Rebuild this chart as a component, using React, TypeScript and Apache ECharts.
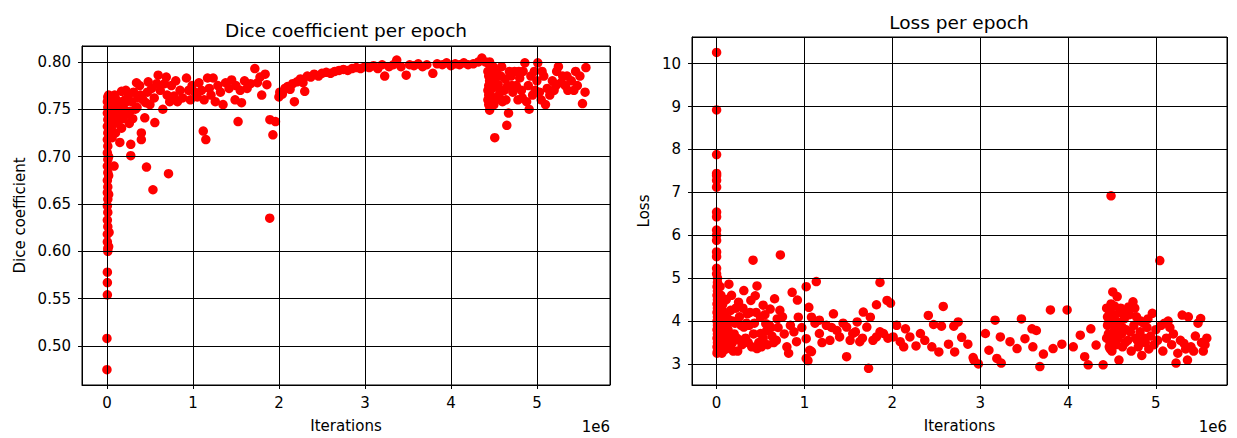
import React, { useEffect, useRef } from "react";
import * as echarts from "echarts";

// Iterations in units of 1e6, Dice coefficient
const dicePoints: [number, number][] = [
  [0, 0.475], [0, 0.508], [0.005, 0.554], [0.005, 0.567], [0.005, 0.578], [0.01, 0.6], [0.01, 0.603],
  [0.005, 0.61], [0.005, 0.618], [0.01, 0.626], [0.005, 0.633], [0.01, 0.641], [0.005, 0.648],
  [0.01, 0.655], [0.005, 0.662], [0.01, 0.668], [0.005, 0.675], [0.01, 0.683], [0.005, 0.69],
  [0.01, 0.697], [0.005, 0.704], [0.01, 0.711], [0.005, 0.718], [0.01, 0.725], [0.005, 0.732],
  [0.01, 0.739], [0.005, 0.746], [0.01, 0.752], [0.005, 0.758], [0.01, 0.763], [0.02, 0.765],
  [0.02, 0.7], [0.02, 0.68], [0.02, 0.66], [0.025, 0.62], [0.02, 0.605],
  [0.02, 0.74], [0.03, 0.72], [0.04, 0.76], [0.05, 0.745], [0.07, 0.755], [0.08, 0.735], [0.09, 0.748],
  [0.11, 0.76], [0.11, 0.738], [0.13, 0.752], [0.16, 0.745], [0.17, 0.73], [0.2, 0.75], [0.23, 0.758],
  [0.27, 0.748], [0.3, 0.74], [0.35, 0.752], [0.39, 0.765], [0.45, 0.757],
  [0.03, 0.764], [0.04, 0.745], [0.05, 0.755], [0.05, 0.73], [0.06, 0.76], [0.06, 0.72], [0.07, 0.74],
  [0.08, 0.75], [0.083, 0.69], [0.09, 0.765], [0.1, 0.745], [0.1, 0.725], [0.12, 0.755], [0.13, 0.735],
  [0.14, 0.75], [0.15, 0.715], [0.17, 0.769], [0.18, 0.758], [0.19, 0.74], [0.21, 0.76], [0.22, 0.77],
  [0.23, 0.745], [0.25, 0.765], [0.26, 0.735], [0.277, 0.713], [0.277, 0.701], [0.29, 0.758],
  [0.31, 0.768], [0.33, 0.75], [0.344, 0.778], [0.36, 0.762], [0.38, 0.775], [0.4, 0.725], [0.4, 0.718],
  [0.42, 0.76], [0.44, 0.741], [0.46, 0.689], [0.47, 0.768], [0.48, 0.779], [0.5, 0.755], [0.52, 0.772],
  [0.535, 0.665], [0.55, 0.762], [0.557, 0.736], [0.58, 0.777], [0.596, 0.786], [0.62, 0.77],
  [0.65, 0.75], [0.67, 0.777], [0.69, 0.784], [0.7, 0.765], [0.716, 0.682], [0.73, 0.758],
  [0.75, 0.775], [0.78, 0.764], [0.8, 0.78], [0.82, 0.758], [0.85, 0.77], [0.88, 0.762], [0.925, 0.783],
  [0.95, 0.77], [0.97, 0.76], [0.99, 0.775], [1.02, 0.768], [1.05, 0.763], [1.07, 0.778], [1.1, 0.77],
  [1.12, 0.727], [1.15, 0.718], [1.13, 0.76], [1.17, 0.783], [1.19, 0.772], [1.21, 0.765],
  [1.235, 0.783], [1.26, 0.758], [1.29, 0.775], [1.32, 0.768], [1.35, 0.755], [1.38, 0.778],
  [1.42, 0.772], [1.45, 0.781], [1.49, 0.76], [1.5, 0.775], [1.525, 0.737], [1.55, 0.77],
  [1.565, 0.757], [1.6, 0.78], [1.63, 0.772], [1.67, 0.777], [1.72, 0.793], [1.75, 0.778],
  [1.78, 0.784], [1.8, 0.765], [1.84, 0.787], [1.86, 0.776], [1.893, 0.635], [1.895, 0.739],
  [1.93, 0.723], [1.96, 0.737],
  [2.0, 0.763], [2.01, 0.768], [2.04, 0.766], [2.07, 0.772], [2.1, 0.774], [2.13, 0.771], [2.16, 0.777],
  [2.18, 0.758], [2.21, 0.779], [2.25, 0.782], [2.28, 0.778], [2.3, 0.769], [2.33, 0.785], [2.37, 0.784],
  [2.41, 0.787], [2.46, 0.785], [2.5, 0.788], [2.55, 0.789], [2.6, 0.788], [2.65, 0.79], [2.7, 0.791],
  [2.75, 0.792], [2.8, 0.791], [2.85, 0.793], [2.9, 0.794], [2.95, 0.793], [3.0, 0.795], [3.05, 0.794],
  [3.1, 0.796], [3.15, 0.793], [3.2, 0.797], [3.23, 0.785], [3.28, 0.795], [3.33, 0.797], [3.37, 0.802],
  [3.42, 0.795], [3.48, 0.786], [3.52, 0.797], [3.57, 0.796], [3.62, 0.798], [3.67, 0.795],
  [3.72, 0.797], [3.79, 0.788], [3.84, 0.798], [3.9, 0.797], [3.95, 0.799], [4.0, 0.796], [4.05, 0.798],
  [4.1, 0.797], [4.15, 0.799], [4.2, 0.797], [4.26, 0.798], [4.32, 0.8], [4.36, 0.804], [4.4, 0.8],
  [4.43, 0.799],
  [4.45, 0.8], [4.44, 0.79], [4.44, 0.785], [4.45, 0.78], [4.44, 0.775], [4.45, 0.77], [4.44, 0.765],
  [4.45, 0.76], [4.44, 0.755], [4.45, 0.749], [4.47, 0.795], [4.48, 0.788], [4.48, 0.772], [4.49, 0.762],
  [4.43, 0.79], [4.43, 0.77], [4.43, 0.76], [4.46, 0.785], [4.46, 0.765], [4.47, 0.755], [4.49, 0.795],
  [4.52, 0.76], [4.54, 0.785], [4.57, 0.77], [4.59, 0.795], [4.64, 0.76], [4.68, 0.79], [4.71, 0.775],
  [4.79, 0.79], [4.83, 0.762], [4.98, 0.77], [5.06, 0.79], [5.22, 0.775], [5.35, 0.785], [5.45, 0.79],
  [4.5, 0.78], [4.5, 0.755], [4.51, 0.72], [4.53, 0.79], [4.55, 0.776], [4.56, 0.765], [4.58, 0.785],
  [4.6, 0.758], [4.62, 0.77], [4.63, 0.782], [4.65, 0.733], [4.67, 0.746], [4.66, 0.775], [4.7, 0.785],
  [4.72, 0.768], [4.74, 0.79], [4.76, 0.775], [4.78, 0.76], [4.8, 0.783], [4.82, 0.77], [4.84, 0.79],
  [4.86, 0.799], [4.88, 0.758], [4.9, 0.775], [4.91, 0.75], [4.93, 0.785], [4.95, 0.765], [4.97, 0.79],
  [5.0, 0.78], [5.01, 0.799], [5.03, 0.768], [5.05, 0.76], [5.08, 0.785], [5.1, 0.755], [5.12, 0.772],
  [5.15, 0.765], [5.18, 0.78], [5.2, 0.77], [5.23, 0.79], [5.25, 0.795], [5.28, 0.778], [5.3, 0.785],
  [5.33, 0.775], [5.36, 0.77], [5.4, 0.78], [5.43, 0.77], [5.47, 0.775], [5.5, 0.785], [5.53, 0.756],
  [5.56, 0.768], [5.57, 0.794],
];

// Iterations in units of 1e6, Loss
const lossPoints: [number, number][] = [
  [0, 10.26], [0, 8.92], [0, 7.88], [0, 7.44], [0, 7.39], [0, 7.28], [0, 7.12], [0, 6.54], [0, 6.43],
  [0, 6.12], [0, 6.0], [0, 5.88], [0, 5.61], [0, 5.5], [0, 5.23], [0, 5.1], [0.01, 5.0], [0.01, 4.9],
  [0.005, 4.8], [0.01, 4.7], [0.005, 4.6], [0.01, 4.5], [0.005, 4.4], [0.01, 4.3], [0.005, 4.2],
  [0.01, 4.1], [0.005, 4.0], [0.01, 3.9], [0.005, 3.8], [0.01, 3.7], [0.005, 3.6], [0.01, 3.5],
  [0.005, 3.4], [0.01, 3.3], [0.005, 3.25], [0.03, 3.3], [0.03, 3.6], [0.03, 3.9], [0.03, 4.2],
  [0.03, 4.5], [0.04, 4.8], [0.04, 4.05], [0.05, 3.45], [0.05, 3.75], [0.06, 4.35], [0.06, 3.25],
  [0.02, 4.6], [0.02, 4.0], [0.02, 3.45], [0.04, 3.5], [0.05, 4.6], [0.07, 3.9], [0.07, 4.4],
  [0.08, 3.7], [0.09, 4.2], [0.11, 3.35], [0.11, 4.5], [0.13, 3.8], [0.13, 4.05], [0.15, 3.6],
  [0.17, 4.6], [0.18, 3.5], [0.21, 3.95], [0.23, 3.6], [0.26, 4.1], [0.29, 3.45], [0.34, 3.95],
  [0.36, 3.5], [0.38, 4.2], [0.43, 3.95], [0.45, 4.2], [0.51, 3.4], [0.55, 4.15], [0.58, 3.45],
  [0.62, 3.85], [0.65, 3.5], [0.69, 4.05],
  [0.08, 3.32], [0.09, 3.55], [0.1, 4.1], [0.1, 3.7], [0.12, 3.9], [0.12, 3.5], [0.14, 4.86],
  [0.16, 3.4], [0.16, 4.25], [0.18, 4.0], [0.19, 3.3], [0.2, 3.7], [0.22, 4.3], [0.24, 3.3],
  [0.25, 4.44], [0.27, 3.55], [0.28, 3.9], [0.3, 4.3], [0.31, 4.71], [0.31, 3.86], [0.33, 3.6],
  [0.35, 4.17], [0.37, 3.9], [0.39, 4.48], [0.4, 3.4], [0.415, 5.42], [0.42, 3.7], [0.44, 4.59],
  [0.46, 4.82], [0.46, 3.36], [0.48, 3.5], [0.5, 4.09], [0.5, 3.71], [0.53, 4.37], [0.53, 3.6],
  [0.56, 3.94], [0.57, 3.78], [0.6, 3.9], [0.61, 4.28], [0.63, 3.65], [0.66, 4.52], [0.68, 3.55],
  [0.7, 3.85], [0.72, 4.25], [0.726, 5.54], [0.75, 4.1], [0.77, 3.7], [0.8, 3.4], [0.82, 3.25],
  [0.84, 3.9], [0.86, 4.67], [0.88, 3.75], [0.91, 3.52], [0.92, 4.49], [0.93, 4.09], [0.97, 3.85],
  [1.02, 4.8], [1.02, 3.59], [1.02, 3.13], [1.04, 3.08], [1.05, 4.32], [1.06, 3.32], [1.08, 4.09],
  [1.08, 3.29], [1.12, 3.95], [1.135, 4.92], [1.17, 4.02], [1.17, 3.71], [1.2, 3.5], [1.25, 3.9],
  [1.29, 3.55], [1.31, 3.85], [1.33, 4.17], [1.37, 3.78], [1.4, 3.63], [1.44, 3.95], [1.48, 3.86],
  [1.48, 3.17], [1.52, 3.55], [1.55, 3.71], [1.58, 3.75], [1.6, 3.98], [1.63, 3.52], [1.66, 3.6],
  [1.67, 4.21], [1.71, 3.86], [1.73, 2.9], [1.75, 4.09], [1.78, 3.55], [1.82, 4.38], [1.82, 3.63],
  [1.86, 4.9], [1.86, 3.75], [1.9, 3.71], [1.94, 4.48], [1.95, 3.6], [1.98, 4.42], [2.01, 3.63],
  [2.05, 3.9], [2.09, 3.52], [2.13, 3.4],
  [2.15, 3.82], [2.2, 3.63], [2.27, 3.42], [2.32, 3.71], [2.37, 3.55], [2.41, 4.13], [2.45, 3.4],
  [2.47, 3.92], [2.53, 3.28], [2.56, 3.88], [2.58, 4.34], [2.64, 3.46], [2.7, 3.88], [2.71, 3.28],
  [2.75, 3.98], [2.79, 3.62], [2.86, 3.46], [2.92, 3.15], [2.93, 3.09], [2.98, 3.0], [3.06, 3.71],
  [3.1, 3.32], [3.17, 4.02], [3.19, 3.13], [3.23, 3.63], [3.24, 3.02], [3.34, 3.52], [3.42, 3.36],
  [3.47, 4.05], [3.51, 3.59], [3.59, 3.82], [3.6, 3.4], [3.64, 3.78], [3.68, 2.94], [3.72, 3.23],
  [3.8, 4.26], [3.83, 3.36], [3.93, 3.46], [3.99, 4.26], [4.06, 3.4], [4.14, 3.67], [4.19, 3.17],
  [4.23, 2.98], [4.26, 3.82], [4.32, 3.44], [4.4, 2.98],
  [4.44, 3.6], [4.44, 4.3], [4.46, 3.95], [4.47, 3.4], [4.49, 4.4], [4.5, 3.3], [4.52, 3.75],
  [4.53, 4.35], [4.55, 4.0], [4.57, 3.6], [4.59, 4.2], [4.62, 3.85], [4.65, 3.5], [4.67, 4.2],
  [4.71, 3.75], [4.76, 4.3], [4.79, 3.55], [4.83, 4.0], [4.87, 3.6], [4.91, 4.05],
  [4.45, 3.9], [4.45, 4.1], [4.46, 3.7], [4.47, 4.25], [4.48, 3.5], [4.48, 3.35], [4.49, 6.92],
  [4.5, 4.0], [4.5, 3.6], [4.51, 4.68], [4.53, 4.15], [4.54, 3.85], [4.55, 3.45], [4.56, 4.57],
  [4.57, 3.95], [4.58, 3.09], [4.6, 4.3], [4.61, 3.7], [4.62, 3.4], [4.64, 4.05], [4.66, 3.8],
  [4.68, 3.55], [4.69, 4.33], [4.7, 4.15], [4.72, 3.3], [4.74, 4.45], [4.75, 3.9], [4.77, 3.6],
  [4.78, 4.1], [4.8, 3.4], [4.82, 3.75], [4.84, 3.2], [4.86, 3.95], [4.88, 3.5], [4.9, 3.85],
  [4.92, 3.35], [4.94, 3.65], [4.96, 4.18], [4.98, 3.45], [5.0, 3.8], [5.02, 3.55], [5.045, 5.41],
  [5.06, 3.9], [5.08, 3.3], [5.1, 3.95], [5.12, 3.6], [5.14, 4.0], [5.16, 3.85], [5.18, 3.45],
  [5.2, 3.7], [5.23, 3.02], [5.25, 3.25], [5.28, 3.55], [5.3, 4.14], [5.32, 3.48], [5.34, 3.35],
  [5.36, 3.09], [5.37, 4.1], [5.4, 3.4], [5.43, 3.3], [5.45, 3.65], [5.48, 3.95], [5.51, 4.06],
  [5.52, 3.5], [5.54, 3.3], [5.56, 3.45], [5.58, 3.6],
];

const titles = ["Dice coefficient per epoch", "Loss per epoch"];
const xAxisName = "Iterations";
const yAxisNames = ["Dice coefficient", "Loss"];
const offsetLabel = "1e6";

const FONT = "DejaVu Sans";

export default function App() {
  const ref = useRef<HTMLDivElement>(null);
  useEffect(() => {
    if (!ref.current) return;
    const chart = echarts.init(ref.current, null, { renderer: "svg" });
    const tickFont = { color: "#000", fontSize: 15, fontFamily: FONT };
    const lineStyle = { color: "#000", width: 1 };
    const xAxisBase = (gridIndex: number, min: number, max: number) => ({
      gridIndex,
      type: "value",
      min,
      max,
      minInterval: 1,
      maxInterval: 1,
      z: 5,
      name: xAxisName,
      nameLocation: "middle",
      nameGap: 33,
      nameTextStyle: { color: "#000", fontSize: 15, fontFamily: FONT },
      axisLine: { show: true, onZero: false, lineStyle },
      axisTick: { show: true, length: 4, lineStyle },
      axisLabel: { ...tickFont, margin: 10, showMinLabel: false, showMaxLabel: false },
      splitLine: { show: true, lineStyle },
    });
    const yAxisBase = (
      gridIndex: number,
      min: number,
      max: number,
      interval: number,
      name: string,
      nameGap: number,
      fmt: (v: number) => string
    ) => ({
      gridIndex,
      type: "value",
      min,
      max,
      minInterval: interval,
      maxInterval: interval,
      z: 5,
      name,
      nameLocation: "middle",
      nameGap,
      nameTextStyle: { color: "#000", fontSize: 15, fontFamily: FONT },
      axisLine: { show: true, onZero: false, lineStyle },
      axisTick: { show: true, length: 4, lineStyle },
      axisLabel: { ...tickFont, margin: 11, showMinLabel: false, showMaxLabel: false, formatter: fmt },
      splitLine: { show: true, lineStyle },
    });
    const titleStyle = (text: string, x: number, y: number) => ({
      type: "text",
      x,
      y,
      style: {
        text,
        textAlign: "center",
        textVerticalAlign: "middle",
        fontSize: 18.5,
        fontFamily: FONT,
        fill: "#000",
      },
    });
    const offsetText = (x: number) => ({
      type: "text",
      x,
      y: 427,
      style: {
        text: offsetLabel,
        textAlign: "right",
        textVerticalAlign: "middle",
        fontSize: 15,
        fontFamily: FONT,
        fill: "#000",
      },
    });
    chart.setOption({
      animation: false,
      backgroundColor: "#fff",
      textStyle: { fontFamily: FONT },
      grid: [
        { left: 82, top: 46, width: 528, height: 342, show: true, borderColor: "#000", borderWidth: 1, backgroundColor: "transparent" },
        { left: 692, top: 37, width: 535, height: 350, show: true, borderColor: "#000", borderWidth: 1, backgroundColor: "transparent" },
      ],
      xAxis: [xAxisBase(0, -0.29, 5.85), xAxisBase(1, -0.28, 5.81)],
      yAxis: [
        yAxisBase(0, 0.4588, 0.8168, 0.05, yAxisNames[0], 55, (v: number) => v.toFixed(2)),
        yAxisBase(1, 2.51, 10.62, 1, yAxisNames[1], 41, (v: number) => String(Math.round(v))),
      ],
      series: [
        {
          type: "scatter",
          xAxisIndex: 0,
          yAxisIndex: 0,
          data: dicePoints,
          symbolSize: 9.5,
          itemStyle: { color: "#ff0000", opacity: 1 },
          z: 2,
        },
        {
          type: "scatter",
          xAxisIndex: 1,
          yAxisIndex: 1,
          data: lossPoints,
          symbolSize: 9.5,
          itemStyle: { color: "#ff0000", opacity: 1 },
          z: 2,
        },
      ],
      graphic: [
        titleStyle(titles[0], 346, 30),
        titleStyle(titles[1], 959, 22),
        offsetText(610),
        offsetText(1227),
      ],
    });
    return () => chart.dispose();
  }, []);
  return (
    <div
      ref={ref}
      style={{ position: "absolute", left: 0, top: 0, width: 1237, height: 438, background: "#fff" }}
    />
  );
}
